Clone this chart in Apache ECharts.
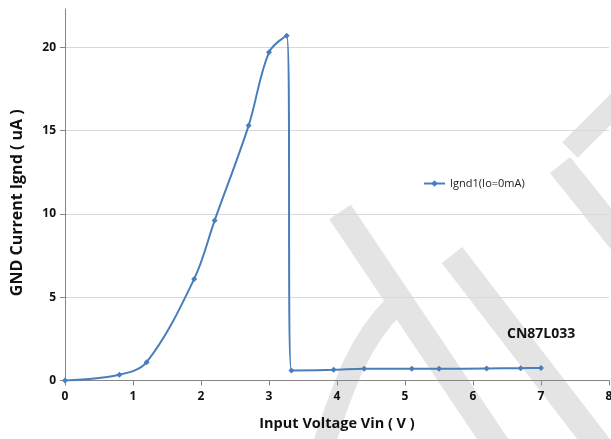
<!DOCTYPE html>
<html>
<head>
<meta charset="utf-8">
<script src="https://cdn.jsdelivr.net/npm/echarts@6/dist/echarts.min.js"></script>
<style>
  html, body { margin: 0; padding: 0; background: #fff; }
  #chart { width: 611px; height: 439px; }
</style>
</head>
<body>
<div id="chart"></div>
<script>
// Ground current vs. input voltage, no-load condition
const vin = [0, 0.8, 1.2, 1.9, 2.2, 2.7, 3.0, 3.26, 3.33, 3.95, 4.4, 5.1, 5.5, 6.2, 6.7, 7.0];
const ignd = [0, 0.35, 1.1, 6.1, 9.6, 15.3, 19.7, 20.7, 0.6, 0.64, 0.7, 0.7, 0.7, 0.72, 0.74, 0.75];
const seriesName = 'Ignd1(Io=0mA)';
const partName = 'CN87L033';
const xTitle = 'Input Voltage Vin ( V )';
const yTitle = 'GND Current Ignd ( uA )';

const FONT = '"Open Sans", Lato, sans-serif';
const BLUE = '#4a7ebb';
const MARK = '#e4e4e4';

const chart = echarts.init(document.getElementById('chart'), null, { renderer: 'canvas' });

// light background strokes
function band(x1, y1, x2, y2, w) {
  return {
    type: 'line', z: -10, silent: true,
    shape: { x1, y1, x2, y2 },
    style: { stroke: MARK, lineWidth: w, lineCap: 'butt' }
  };
}

chart.setOption({
  animation: false,
  backgroundColor: '#ffffff',
  grid: { left: 65, right: 2, top: 9, bottom: 58.5, containLabel: false, outerBoundsMode: 'none' },
  graphic: [
    band(340, 212, 500, 450, 26),
    band(452, 255, 602, 450, 26),
    band(560, 165, 640, 265, 26),
    band(640, 80, 570, 150, 22),
    {
      type: 'bezierCurve', z: -10, silent: true,
      shape: { x1: 322, y1: 450, cpx1: 345, cpy1: 380, cpx2: 360, cpy2: 340, x2: 395, y2: 305 },
      style: { stroke: MARK, lineWidth: 22, fill: null }
    }
  ],
  legend: {
    left: 423, top: 178, padding: 0,
    itemWidth: 21, itemHeight: 8, itemGap: 4,
    textStyle: { fontFamily: FONT, fontSize: 11, color: '#222', fontWeight: 'normal' },
    data: [{ name: seriesName }]
  },
  title: {
    text: partName, left: 502, top: 322,
    textStyle: { fontFamily: FONT, fontSize: 14, fontWeight: 'bold', color: '#111' }
  },
  xAxis: {
    type: 'value', min: 0, max: 8, interval: 1,
    name: xTitle, nameLocation: 'middle', nameGap: 36,
    nameTextStyle: { fontFamily: FONT, fontSize: 14.5, fontWeight: 'bold', color: '#111' },
    axisLine: { show: true, lineStyle: { color: '#868686', width: 1 } },
    axisTick: { show: true, length: 5, lineStyle: { color: '#868686' } },
    axisLabel: { fontFamily: FONT, fontSize: 12, fontWeight: 'bold', color: '#111', margin: 10 },
    splitLine: { show: false }
  },
  yAxis: {
    type: 'value', min: 0, max: 22.3, interval: 5,
    name: yTitle, nameLocation: 'middle', nameGap: 40, nameRotate: 90,
    nameTextStyle: {
      fontFamily: FONT, fontSize: 16, fontWeight: 'bold', color: '#111',
      padding: [0, 16, 0, 0]
    },
    axisLine: { show: true, lineStyle: { color: '#868686', width: 1 } },
    axisTick: { show: true, length: 5, lineStyle: { color: '#868686' } },
    axisLabel: {
      fontFamily: FONT, fontSize: 12, fontWeight: 'bold', color: '#111', margin: 9,
      showMaxLabel: false,
      formatter: v => (v % 5 === 0 ? String(v) : '')
    },
    splitLine: { show: true, showMaxLine: false, lineStyle: { color: '#d9d9d9', width: 1 } }
  },
  series: [{
    name: seriesName,
    type: 'line',
    data: vin.map((v, i) => [v, ignd[i]]),
    smooth: 0.35,
    symbol: 'diamond', symbolSize: 6,
    lineStyle: { color: BLUE, width: 2 },
    itemStyle: { color: BLUE },
    z: 5
  }]
});
</script>
</body>
</html>
